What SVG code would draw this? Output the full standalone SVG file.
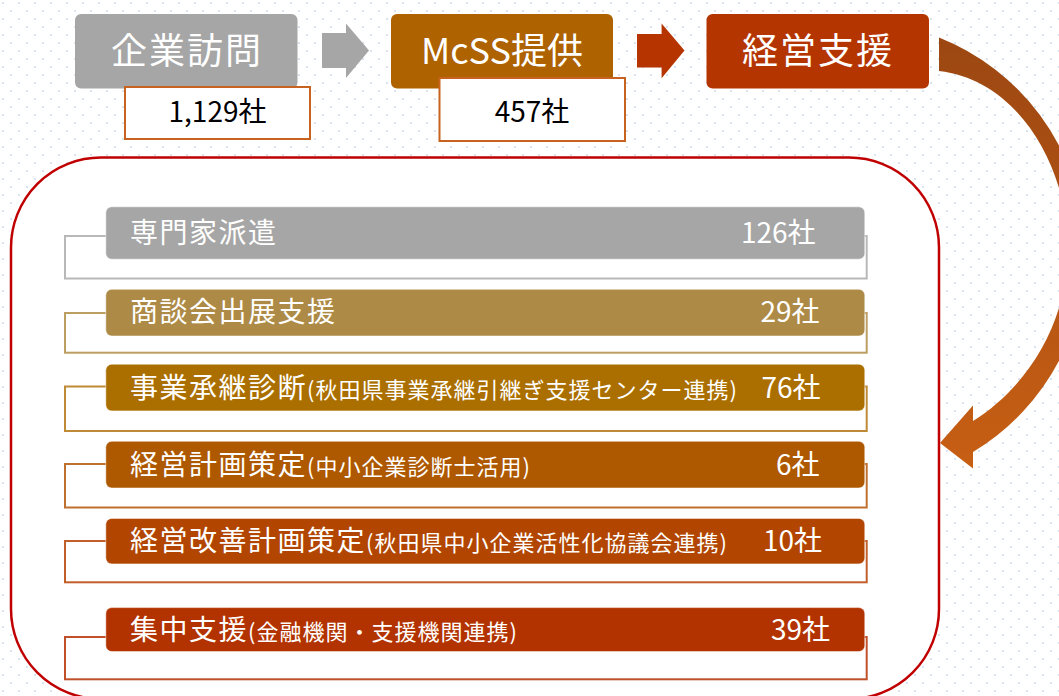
<svg xmlns="http://www.w3.org/2000/svg" width="1059" height="696" viewBox="0 0 1059 696">
<defs>
<pattern id="dots" width="16" height="16" patternUnits="userSpaceOnUse">
<rect x="2" y="2" width="2" height="2" fill="#d9e4f0"/>
<rect x="10" y="10" width="2" height="2" fill="#d9e4f0"/>
</pattern>
<linearGradient id="curveGrad" gradientUnits="userSpaceOnUse" x1="0" y1="38" x2="0" y2="468">
<stop offset="0" stop-color="#9c4712"/>
<stop offset="1" stop-color="#c75f14"/>
</linearGradient>
<style>
.top { font-family: "Noto Sans CJK JP", "Noto Sans", sans-serif; font-size: 36px; fill: #ffffff; text-anchor: middle; letter-spacing: 2px; }
.val { font-family: "Noto Sans CJK JP", "Noto Sans", sans-serif; font-size: 28px; fill: #000000; text-anchor: middle; }
.valbox { fill: #ffffff; stroke: #c8631f; stroke-width: 2; }
.lbl { font-family: "Noto Sans CJK JP", "Noto Sans", sans-serif; font-size: 28px; fill: #ffffff; letter-spacing: 1.5px; }
.sub { font-size: 22px; letter-spacing: 1px; }
.num { font-family: "Noto Sans CJK JP", "Noto Sans", sans-serif; font-size: 28px; fill: #ffffff; text-anchor: end; }
.bar { stroke: #ffffff; stroke-opacity: 0.5; stroke-width: 1; }
.brk { fill: none; stroke-width: 2; }
</style>
</defs>
<rect x="0" y="0" width="1059" height="696" fill="#ffffff"/>
<rect x="0" y="0" width="1059" height="696" fill="url(#dots)"/>

<g id="frame">
<rect x="11" y="157.5" width="928" height="541.5" rx="90" ry="90" fill="#ffffff" stroke="#c00000" stroke-width="2.5"/>
</g>

<g id="connectors">
<polygon points="322,33 346,33 346,23.5 369,50.6 346,78 346,68 322,68" fill="#a6a6a6"/>
<polygon points="637,34 661.6,34 661.6,23.6 684.5,50.6 661.6,78.3 661.6,67.5 637,67.5" fill="#b53400"/>
<path d="M939,37.5 A232,232 0 0 1 973,452 L973,468.5 L940,443 L973,405.5 L973,421 C1030,385 1068,320 1068,248 C1068,170 1020,80 939,71 Z" fill="url(#curveGrad)"/>
</g>

<g id="node-visit">
<rect x="75" y="14" width="222.5" height="74.5" rx="6" fill="#a6a6a6"/>
<text class="top" x="187" y="63.5">企業訪問</text>
</g>
<g id="node-visit-count">
<rect class="valbox" x="125" y="87" width="185" height="52"/>
<text class="val" x="217.5" y="122">1,129社</text>
</g>

<g id="node-mcss">
<rect x="391" y="14" width="222" height="74.5" rx="6" fill="#ae6200"/>
<text class="top" x="502" y="63.5" style="letter-spacing:0px">McSS提供</text>
</g>
<g id="node-mcss-count">
<rect class="valbox" x="439.5" y="78" width="185.5" height="63"/>
<text class="val" x="532" y="121.5">457社</text>
</g>

<g id="node-support">
<rect x="706.5" y="14" width="222.5" height="74.5" rx="6" fill="#b43500"/>
<text class="top" x="818" y="63.5">経営支援</text>
</g>

<g id="item-1">
<rect class="brk" x="65" y="236" width="801.7" height="42.5" stroke="#b8b8b8"/>
<rect class="bar" x="105.8" y="206.8" width="759" height="52.4" rx="6" fill="#a6a6a6"/>
<text class="lbl" x="130" y="242.5">専門家派遣</text>
<text class="num" x="815.5" y="242.5">126社</text>
</g>

<g id="item-2">
<rect class="brk" x="65" y="313" width="801.7" height="39.7" stroke="#bd9e62"/>
<rect class="bar" x="105.8" y="289.3" width="759" height="46.7" rx="6" fill="#ad8a46"/>
<text class="lbl" x="130" y="322">商談会出展支援</text>
<text class="num" x="819.5" y="322">29社</text>
</g>

<g id="item-3">
<rect class="brk" x="65" y="386.5" width="801.7" height="44.5" stroke="#bf8a35"/>
<rect class="bar" x="105.8" y="364.2" width="759" height="46.7" rx="6" fill="#ab6f00"/>
<text class="lbl" x="130" y="398">事業承継診断<tspan class="sub">(秋田県事業承継引継ぎ支援センター連携)</tspan></text>
<text class="num" x="820.5" y="398">76社</text>
</g>

<g id="item-4">
<rect class="brk" x="65" y="464" width="801.7" height="43.5" stroke="#c0702e"/>
<rect class="bar" x="105.8" y="441.3" width="759" height="46.7" rx="6" fill="#ae5800"/>
<text class="lbl" x="130" y="475">経営計画策定<tspan class="sub">(中小企業診断士活用)</tspan></text>
<text class="num" x="819.5" y="475">6社</text>
</g>

<g id="item-5">
<rect class="brk" x="65" y="541" width="801.7" height="41.3" stroke="#c25e2a"/>
<rect class="bar" x="105.8" y="518.4" width="759" height="45.5" rx="6" fill="#b24600"/>
<text class="lbl" x="130" y="550.5">経営改善計画策定<tspan class="sub">(秋田県中小企業活性化協議会連携)</tspan></text>
<text class="num" x="822" y="550.5">10社</text>
</g>

<g id="item-6">
<rect class="brk" x="65" y="637" width="801.7" height="42.3" stroke="#c0502a"/>
<rect class="bar" x="105.8" y="607.6" width="759" height="44" rx="6" fill="#b33300"/>
<text class="lbl" x="130" y="639.5">集中支援<tspan class="sub">(金融機関・支援機関連携)</tspan></text>
<text class="num" x="830" y="639.5">39社</text>
</g>
</svg>
